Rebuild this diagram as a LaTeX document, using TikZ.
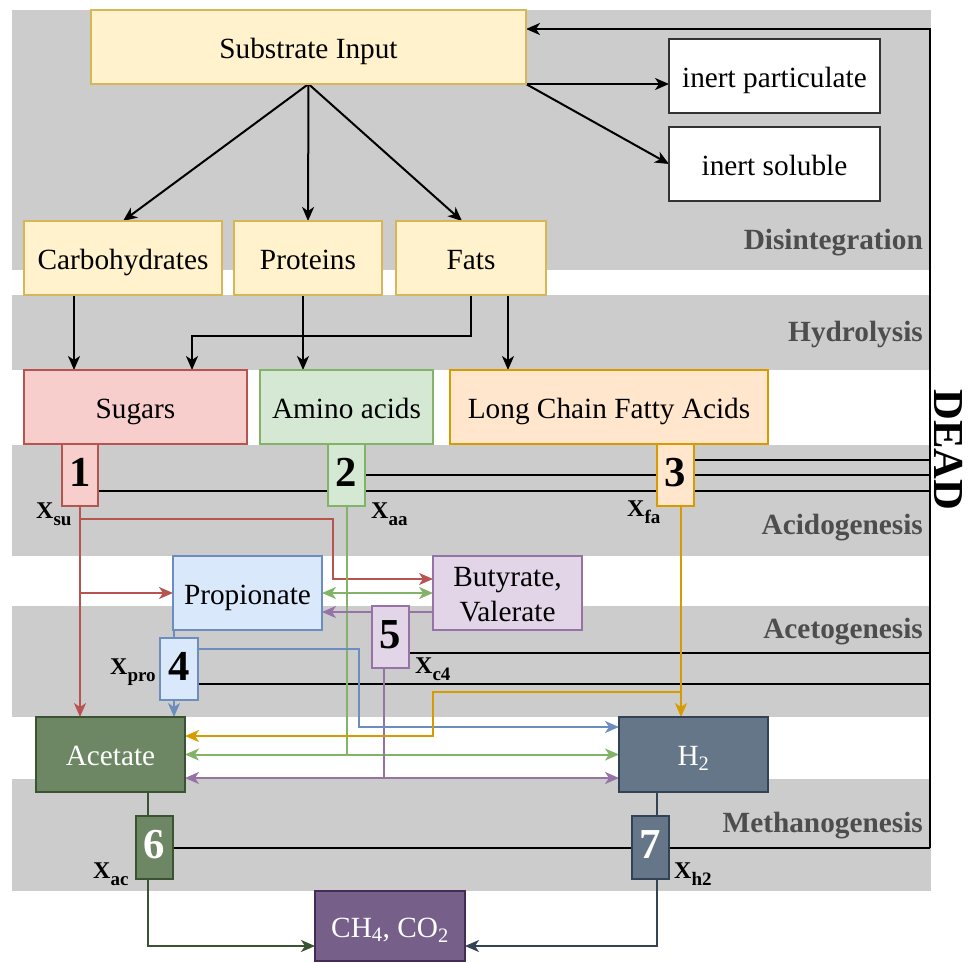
\documentclass[tikz,border=0pt]{standalone}
\usepackage{fontspec}
\setmainfont{Liberation Serif}
\usetikzlibrary{arrows.meta,calc}
\definecolor{bandc}{HTML}{CCCCCC}
\definecolor{bandtxt}{HTML}{4D4D4D}
\definecolor{cYf}{HTML}{FFF2CC}\definecolor{cYd}{HTML}{D6B656}
\definecolor{cRf}{HTML}{F8CECC}\definecolor{cRd}{HTML}{B85450}
\definecolor{cGf}{HTML}{D5E8D4}\definecolor{cGd}{HTML}{82B366}
\definecolor{cOf}{HTML}{FFE6CC}\definecolor{cOd}{HTML}{D79B00}
\definecolor{cBf}{HTML}{DAE8FC}\definecolor{cBd}{HTML}{6C8EBF}
\definecolor{cPf}{HTML}{E1D5E7}\definecolor{cPd}{HTML}{9673A6}
\definecolor{cDGf}{HTML}{6D8764}\definecolor{cDGd}{HTML}{3A5431}
\definecolor{cSf}{HTML}{647687}\definecolor{cSd}{HTML}{314354}
\definecolor{cDPf}{HTML}{76608A}\definecolor{cDPd}{HTML}{432D57}
\newcommand{\xlab}[1]{\fontsize{24}{24}\selectfont\bfseries X\raisebox{-7pt}{\fontsize{19}{19}\selectfont #1}}
\pgfdeclarelayer{bg}\pgfdeclarelayer{lines}
\pgfsetlayers{bg,lines,main}
\tikzset{
  nd/.style={draw, line width=1.3pt, inner sep=0pt, outer sep=0pt, align=center,
    text height=24pt, text depth=2pt,
    font=\fontsize{29.3}{35}\selectfont},
  numb/.style={font=\fontsize{42.7}{42.7}\selectfont\bfseries},
  band/.style={fill=bandc, draw=none},
  bandlbl/.style={anchor=base east, inner sep=0pt, text=bandtxt, font=\fontsize{29.3}{35}\selectfont\bfseries},
  xl/.style={anchor=base west, inner sep=0pt},
  blk/.style={line width=2pt, draw=black},
  arr/.style={-{Stealth[length=14pt,width=12pt,inset=4pt]}},
  darr/.style={{Stealth[length=14pt,width=12pt,inset=4pt]}-{Stealth[length=14pt,width=12pt,inset=4pt]}},
  cl/.style={line width=2pt},
}
\begin{document}
\begin{tikzpicture}[x=1pt,y=-1pt]
\useasboundingbox (0,0) rectangle (969,962);
% bands
\begin{pgfonlayer}{bg}
\fill[band] (12,10) rectangle (931,270);
\fill[band] (12,295) rectangle (931,370);
\fill[band] (12,445) rectangle (931,556);
\fill[band] (12,606) rectangle (931,717);
\fill[band] (12,779) rectangle (931,891);
\end{pgfonlayer}
\node[bandlbl] (tdis) at (923,249) {Disintegration};
\node[bandlbl] (thyd) at (923,341) {Hydrolysis};
\node[bandlbl] (tacid) at (923,534) {Acidogenesis};
\node[bandlbl] (tacet) at (923,638) {Acetogenesis};
\node[bandlbl] (tmeth) at (923,832) {Methanogenesis};
\node[rotate=-90, inner sep=0pt, font=\fontsize{42.7}{42.7}\selectfont\bfseries] (dead) at (949,450) {DEAD};
% nodes
\node[nd, fill=cYf, draw=cYd, minimum width=435, minimum height=74] (sub) at (308.5,47) {Substrate Input};
\node[nd, fill=white, draw=black!80, minimum width=211, minimum height=74] (ip) at (774.5,76) {inert particulate};
\node[nd, fill=white, draw=black!80, minimum width=211, minimum height=74] (is) at (774.5,164) {inert soluble};
\node[nd, fill=cYf, draw=cYd, minimum width=198, minimum height=74] (carb) at (123,258) {Carbohydrates};
\node[nd, fill=cYf, draw=cYd, minimum width=148, minimum height=74] (prot) at (308,258) {Proteins};
\node[nd, fill=cYf, draw=cYd, minimum width=150, minimum height=74] (fats) at (471,258) {Fats};
\node[nd, fill=cRf, draw=cRd, minimum width=223, minimum height=74] (sug) at (135.5,407) {Sugars};
\node[nd, fill=cGf, draw=cGd, minimum width=173, minimum height=74] (amino) at (346.5,407) {Amino acids};
\node[nd, fill=cOf, draw=cOd, minimum width=318, minimum height=74] (lcfa) at (609,407) {Long Chain Fatty Acids};
\node[nd, numb, fill=cRf, draw=cRd, minimum width=36, minimum height=62] (b1) at (80,475) {1};
\node[nd, numb, fill=cGf, draw=cGd, minimum width=37, minimum height=62] (b2) at (346.5,475) {2};
\node[nd, numb, fill=cOf, draw=cOd, minimum width=37, minimum height=62] (b3) at (675.5,475) {3};
\node[nd, fill=cBf, draw=cBd, minimum width=149, minimum height=74] (prop) at (247.5,593) {Propionate};
\node[nd, fill=cPf, draw=cPd, minimum width=149, minimum height=74, text height=59pt, text depth=2pt] (buty) at (507.5,593) {Butyrate,\\Valerate};
\node[nd, numb, fill=cBf, draw=cBd, minimum width=38, minimum height=62] (b4) at (179,669) {4};
\node[nd, numb, fill=cPf, draw=cPd, minimum width=37, minimum height=62] (b5) at (390.5,637) {5};
\node[nd, fill=cDGf, draw=cDGd, text=white, minimum width=149, minimum height=75] (ace) at (110.5,754.5) {Acetate};
\node[nd, fill=cSf, draw=cSd, text=white, minimum width=149, minimum height=75] (h2) at (693.5,754.5) {H\textsubscript{2}};
\node[nd, numb, fill=cDGf, draw=cDGd, text=white, minimum width=37, minimum height=63] (b6) at (154.5,847.5) {6};
\node[nd, numb, fill=cSf, draw=cSd, text=white, minimum width=37, minimum height=63] (b7) at (650.5,847.5) {7};
\node[nd, fill=cDPf, draw=cDPd, text=white, minimum width=150, minimum height=70] (ch) at (390,926) {CH\textsubscript{4}, CO\textsubscript{2}};
% labels
\node[xl] (xsu) at (36,518) {\xlab{su}};
\node[xl] (xaa) at (371,518) {\xlab{aa}};
\node[xl] (xfa) at (627,516) {\xlab{fa}};
\node[xl] (xpro) at (110,674) {\xlab{pro}};
\node[xl] (xc4) at (415,673) {\xlab{c4}};
\node[xl] (xac) at (93,878) {\xlab{ac}};
\node[xl] (xh2) at (674,878) {\xlab{h2}};
% connectors
\begin{pgfonlayer}{lines}
\coordinate (dtop) at (930,29);
\coordinate (dbot) at (930,847.5);
\draw[blk, arr] (sub.south) -- (carb.north);
\draw[blk, arr] (sub.south) -- (prot.north);
\draw[blk, arr] (sub.south) -- ($(fats.north)+(-9,0)$);
\draw[blk, arr] (sub.south east) -- (sub.south east -| ip.west);
\draw[blk, arr] (sub.south east) -- (is.west);
\draw[blk, arr] (dbot) -- (dtop) -- (dtop -| sub.east);
% hydrolysis
\coordinate (hc) at ($(carb.south)+(-49,0)$);
\draw[blk, arr] (hc) -- (hc |- sug.north);
\coordinate (hs) at ($(sug.north)+(56.5,0)$);
\draw[blk, arr] (fats.south) -- ++(0,41) -| (hs);
\coordinate (hp) at ($(prot.south)+(-5,0)$);
\draw[blk, arr] (hp) -- (hp |- amino.north);
\coordinate (hf) at ($(fats.south)+(37,0)$);
\draw[blk, arr] (hf) -- (hf |- lcfa.north);
% to DEAD
\coordinate (l1) at ($(b1.east)+(0,16)$);
\draw[blk] (l1) -- (l1 -| dbot);
\draw[blk] (b2.east) -- (b2.east -| dbot);
\coordinate (l3) at ($(b3.east)+(0,-15)$);
\draw[blk] (l3) -- (l3 -| dbot);
\coordinate (l5) at ($(b5.east)+(0,16)$);
\draw[blk] (l5) -- (l5 -| dbot);
\coordinate (l4) at ($(b4.east)+(0,15)$);
\draw[blk] (l4) -- (l4 -| dbot);
\draw[blk] (b6.east) -- (dbot);
% red
\draw[cl, cRd, arr] (b1.south) -- (b1.south |- ace.north);
\coordinate (r1) at ($(b1.south)+(0,13)$);
\coordinate (rb) at ($(buty.west)+(0,-14)$);
\draw[cl, cRd, arr] (r1) -| ($(rb)+(-100,0)$) -- (rb);
\draw[cl, cRd, arr] (b1.south |- prop.west) -- (prop.west);
% green
\draw[cl, cGd] (b2.south) -- (b2.south |- ace.east);
\draw[cl, cGd, darr] (ace.east) -- (h2.west);
\draw[cl, cGd, darr] (prop.east) -- (buty.west);
% purple
\coordinate (pb) at ($(buty.west)+(0,19)$);
\draw[cl, cPd, arr] (pb) -- (pb -| prop.east);
\coordinate (pa) at ($(ace.east)+(0,23.5)$);
\coordinate (ph) at ($(h2.west)+(0,23.5)$);
\draw[cl, cPd, darr] (pa) -- (ph);
\coordinate (p5) at ($(b5.south)+(-6.5,0)$);
\draw[cl, cPd] (p5) -- (p5 |- pa);
% blue
\coordinate (bp) at ($(prop.south west)+(1,0)$);
\draw[cl, cBd, arr] (bp) -- (bp |- ace.north);
\coordinate (bl) at ($(b4.east)+(0,-20)$);
\coordinate (hb) at ($(h2.west)+(0,-27.5)$);
\draw[cl, cBd, arr] (bl) -| ($(hb)+(-260,0)$) -- (hb);
% orange
\coordinate (o3) at ($(b3.south)+(5.5,0)$);
\draw[cl, cOd, arr] (o3) -- (o3 |- h2.north);
\coordinate (o1) at ($(b3.south)+(5.5,186)$);
\coordinate (oa) at ($(ace.east)+(0,-18.5)$);
\draw[cl, cOd, arr] (o1) -| ($(oa)+(248,0)$) -- (oa);
% dark green
\coordinate (g6) at ($(b6.north)+(-6.5,0)$);
\draw[cl, cDGd] (g6 |- ace.south) -- (g6);
\coordinate (g6b) at ($(b6.south)+(-6.5,0)$);
\coordinate (cw) at ($(ch.west)+(0,20)$);
\draw[cl, cDGd, arr] (g6b) |- (cw);
% slate
\coordinate (s7) at ($(b7.north)+(6.5,0)$);
\draw[cl, cSd] (s7 |- h2.south) -- (s7);
\coordinate (s7b) at ($(b7.south)+(6.5,0)$);
\coordinate (ce) at ($(ch.east)+(0,20)$);
\draw[cl, cSd, arr] (s7b) |- (ce);
\end{pgfonlayer}
\end{tikzpicture}
\end{document}
